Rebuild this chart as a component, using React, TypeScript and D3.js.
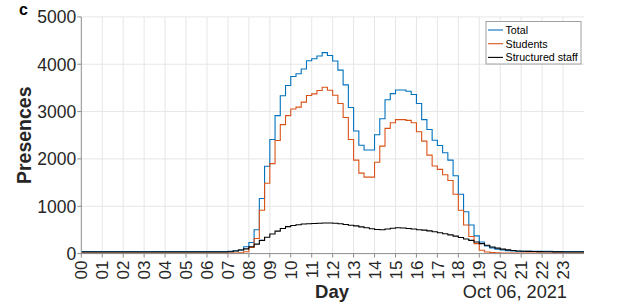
import React from "react";
import * as d3 from "d3";

const W = 623;
const H = 304;

// hour tick labels on the x axis
const hourLabels = [
  "00", "01", "02", "03", "04", "05", "06", "07", "08", "09", "10", "11",
  "12", "13", "14", "15", "16", "17", "18", "19", "20", "21", "22", "23",
];
const yTicks = [0, 1000, 2000, 3000, 4000, 5000];

// presences per 15 min slot, 00:00 .. 23:45
const total = [
  45, 45, 45, 45, 45, 45, 45, 45, 45, 45, 45, 45, 45, 45, 45, 45,
  45, 45, 45, 45, 45, 45, 45, 45, 45, 45, 45, 45, 50, 60, 75, 145,
  235, 505, 1165, 1845, 2410, 2915, 3335, 3550, 3740, 3800, 3900, 4075, 4115, 4175, 4245, 4185,
  4070, 3875, 3565, 3085, 2590, 2290, 2190, 2190, 2510, 2850, 3250, 3380, 3455, 3455, 3430, 3360,
  3170, 2830, 2620, 2395, 2285, 2130, 1975, 1645, 1255, 885, 605, 375, 245, 160, 120, 92,
  75, 62, 55, 50, 48, 48, 47, 47, 46, 46, 45, 45, 45, 45, 45, 45,
];
const students = [
  10, 10, 10, 10, 10, 10, 10, 10, 10, 10, 10, 10, 10, 10, 10, 10,
  10, 10, 10, 10, 10, 10, 10, 10, 10, 10, 10, 10, 10, 10, 15, 40,
  130, 320, 915, 1485, 1900, 2390, 2725, 2915, 3055, 3095, 3200, 3340, 3375, 3445, 3515, 3450,
  3345, 3170, 2875, 2410, 1975, 1700, 1615, 1615, 1930, 2270, 2645, 2765, 2830, 2830, 2815, 2765,
  2575, 2375, 2080, 1850, 1780, 1665, 1545, 1255, 915, 605, 360, 210, 70, 35, 20, 15,
  12, 12, 10, 10, 10, 10, 10, 10, 10, 10, 10, 10, 10, 10, 10, 10,
];
const staff = [
  35, 35, 35, 35, 35, 35, 35, 35, 35, 35, 35, 35, 35, 35, 35, 35,
  35, 35, 35, 35, 35, 35, 35, 35, 35, 35, 35, 35, 40, 55, 75, 100,
  145, 200, 280, 345, 415, 475, 530, 570, 595, 610, 625, 630, 635, 640, 645, 645,
  640, 630, 615, 600, 585, 565, 545, 525, 510, 505, 520, 535, 545, 540, 530, 520,
  505, 495, 480, 460, 440, 420, 395, 370, 340, 310, 280, 245, 210, 175, 140, 115,
  95, 78, 65, 55, 50, 47, 45, 42, 40, 38, 37, 36, 35, 35, 35, 35,
];

const seriesNames = ["Total", "Students", "Structured staff"];
const seriesColors = ["#0072BD", "#D95319", "#000000"];
const seriesData = [total, students, staff];

const FONT = "'Liberation Sans', Arial, Helvetica, sans-serif";

export default function App() {
  const x = d3.scaleLinear().domain([0, 24]).range([81.3, 584]);
  const y = d3.scaleLinear().domain([0, 5000]).range([253.6, 16.9]);

  const line = d3
    .line<[number, number]>()
    .x((d) => x(d[0]))
    .y((d) => y(d[1]))
    .curve(d3.curveStepAfter);

  const toPoints = (vals: number[]): [number, number][] => {
    const pts: [number, number][] = vals.map((v, i) => [i * 0.25, v]);
    pts.push([24, vals[vals.length - 1]]);
    return pts;
  };

  const gridColor = "#e6e6e6";
  const axisColor = "#8c8c8c";
  const textColor = "#262626";

  return (
    <div style={{ position: "fixed", left: 0, top: 0 }}>
      <svg width={W} height={H} style={{ display: "block", background: "#fff" }} fontFamily={FONT}>
        {/* grid */}
        {hourLabels.map((_, i) =>
          i === 0 ? null : (
            <line key={"gx" + i} x1={x(i)} x2={x(i)} y1={y(5000)} y2={y(0)} stroke={gridColor} strokeWidth={1} />
          )
        )}
        {yTicks.slice(1).map((t) => (
          <line key={"gy" + t} x1={x(0)} x2={x(24)} y1={y(t)} y2={y(t)} stroke={gridColor} strokeWidth={1} />
        ))}

        {/* series */}
        {seriesData.map((vals, i) => (
          <path key={seriesNames[i]} d={line(toPoints(vals)) || ""} fill="none" stroke={seriesColors[i]} strokeWidth={1.1} />
        ))}

        {/* axes */}
        <line x1={x(0)} x2={x(0)} y1={y(5000)} y2={y(0)} stroke={axisColor} strokeWidth={1} />
        <line x1={x(0)} x2={x(24)} y1={y(0)} y2={y(0)} stroke={axisColor} strokeWidth={1} />
        {yTicks.map((t) => (
          <g key={"ty" + t}>
            <line x1={x(0) - 4} x2={x(0)} y1={y(t)} y2={y(t)} stroke={axisColor} />
            <text x={x(0) - 5} y={y(t)} dy="0.36em" textAnchor="end" fontSize={17.5} fill={textColor}>
              {t}
            </text>
          </g>
        ))}
        {hourLabels.map((lab, i) => (
          <g key={"tx" + i}>
            <line x1={x(i)} x2={x(i)} y1={y(0)} y2={y(0) + 4} stroke={axisColor} />
            <text
              transform={`translate(${x(i)},${y(0) + 7}) rotate(-90)`}
              dy="0.36em"
              textAnchor="end"
              fontSize={17}
              fill={textColor}
            >
              {lab}
            </text>
          </g>
        ))}

        {/* labels */}
        <text x={332} y={298} textAnchor="middle" fontSize={18.5} fontWeight="bold" fill={textColor}>
          Day
        </text>
        <text x={567} y={298} textAnchor="end" fontSize={18.2} fill={textColor}>
          Oct 06, 2021
        </text>
        <text
          transform={`translate(31,${(y(0) + y(5000)) / 2}) rotate(-90)`}
          textAnchor="middle"
          fontSize={19.5}
          fontWeight="bold"
          fill={textColor}
        >
          Presences
        </text>
        <text x={19} y={15} fontSize={16} fontWeight="bold" fill="#000">
          c
        </text>

        {/* legend */}
        <rect x={486} y={21.5} width={95} height={42.5} fill="#fff" stroke="#a0a0a0" strokeWidth={1} />
        {seriesNames.map((name, i) => (
          <g key={"lg" + name}>
            <line x1={488} x2={503} y1={30 + i * 13.7} y2={30 + i * 13.7} stroke={seriesColors[i]} strokeWidth={1.1} />
            <text x={505.5} y={30 + i * 13.7} dy="0.36em" fontSize={10.7} fill="#000">
              {name}
            </text>
          </g>
        ))}
      </svg>
    </div>
  );
}
